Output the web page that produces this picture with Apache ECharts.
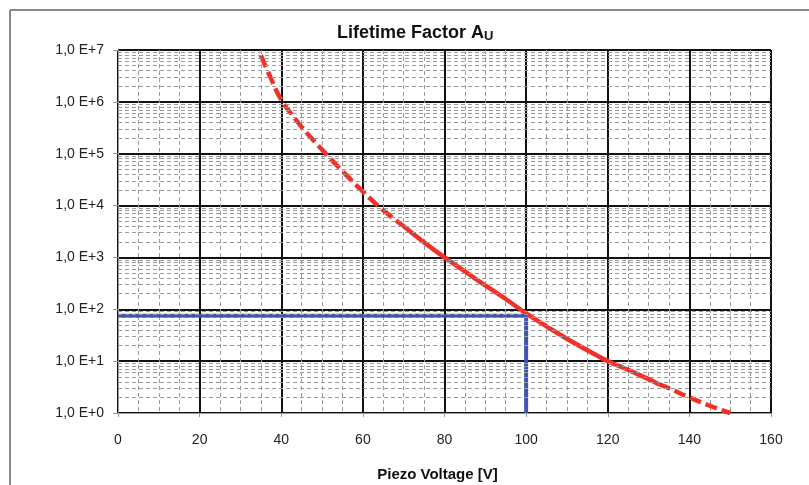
<!DOCTYPE html>
<html>
<head>
<meta charset="utf-8">
<script src="https://cdn.jsdelivr.net/npm/echarts@6/dist/echarts.min.js"></script>
<style>
html,body{margin:0;padding:0;background:#fff;}
#chart{width:809px;height:485px;}
</style>
</head>
<body>
<div id="chart"></div>
<script>
// ---- data ----
const voltage  = [35, 37.5, 40, 45, 50, 55, 60, 65, 70, 75, 80, 85, 90, 95, 100, 105, 110, 115, 120, 125, 130, 132.5, 135, 140, 145, 150];
const lifetime = [7.9e6, 2.8e6, 1.1e6, 3.3e5, 1.2e5, 4.6e4, 1.86e4, 8.1e3, 4.0e3, 1.95e3, 1.0e3, 537, 288, 158, 83, 47, 27, 16.2, 10, 6.8, 4.5, 3.6, 3.0, 2.0, 1.38, 1.0];
const solidFrom = 70;     // curve drawn solid between these voltages
const solidTo = 132.5;
const markerVoltage = 100;
const markerLifetime = 75;
const xTicks = [0, 20, 40, 60, 80, 100, 120, 140, 160];
const yTickLabels = ['1,0 E+0', '1,0 E+1', '1,0 E+2', '1,0 E+3', '1,0 E+4', '1,0 E+5', '1,0 E+6', '1,0 E+7'];
const minorMantissa = [2, 3, 4, 5, 6, 7, 8, 9];

// ---- build ----
const pts = voltage.map((v, i) => [v, lifetime[i]]);
const highDashed = pts.filter(p => p[0] <= solidFrom);
const solidPart = pts.filter(p => p[0] >= solidFrom && p[0] <= solidTo);
const lowDashed = pts.filter(p => p[0] >= solidTo);
const minorY = [];
for (let e = 0; e < yTickLabels.length - 1; e++) {
  minorMantissa.forEach(m => minorY.push(m * Math.pow(10, e)));
}
const red = '#f2302a';
const blue = '#3d55b0';
const font = 'Liberation Sans, Arial, sans-serif';

const chart = echarts.init(document.getElementById('chart'), null, {renderer: 'canvas'});
chart.setOption({
  animation: false,
  backgroundColor: '#fff',
  title: {
    text: '{a|Lifetime Factor A}{b|U}',
    left: 332, top: 19,
    textStyle: {
      rich: {
        a: {fontFamily: font, fontWeight: 'bold', fontSize: 18, color: '#111'},
        b: {fontFamily: font, fontWeight: 'bold', fontSize: 13, color: '#111', verticalAlign: 'bottom', padding: [6, 0, 0, 0]}
      }
    }
  },
  graphic: [
    {type: 'line', shape: {x1: 10, y1: 10, x2: 809, y2: 10}, style: {stroke: '#888', lineWidth: 2}},
    {type: 'line', shape: {x1: 10, y1: 10, x2: 10, y2: 485}, style: {stroke: '#888', lineWidth: 2}}
  ],
  grid: {left: 118, right: 38, top: 50, bottom: 72, outerBoundsMode: 'none', containLabel: false,
         show: true, borderColor: '#999', borderWidth: 1, backgroundColor: '#fff'},
  xAxis: {
    type: 'value', min: xTicks[0], max: xTicks[xTicks.length - 1], interval: 20,
    name: 'Piezo Voltage [V]', nameLocation: 'middle', nameGap: 54,
    nameTextStyle: {fontFamily: font, fontWeight: 'bold', fontSize: 15, color: '#111', padding: [0, 14, 0, 0]},
    axisLine: {show: true, lineStyle: {color: '#999', width: 1}},
    axisTick: {show: true, length: 4, lineStyle: {color: '#999'}},
    axisLabel: {margin: 20, fontFamily: font, fontSize: 14, color: '#222'},
    splitLine: {show: true, lineStyle: {color: '#111', width: 2}},
    minorTick: {show: false, splitNumber: 4},
    minorSplitLine: {show: true, lineStyle: {color: '#9a9a9a', width: 1, type: [4, 3]}}
  },
  yAxis: {
    type: 'log', logBase: 10, min: 1, max: 1e7,
    axisLine: {show: true, lineStyle: {color: '#999', width: 1}},
    axisTick: {show: true, length: 5, lineStyle: {color: '#999'}},
    axisLabel: {
      margin: 14, fontFamily: font, fontSize: 14, color: '#222',
      formatter: v => yTickLabels[Math.round(Math.log10(v))]
    },
    splitLine: {show: true, lineStyle: {color: '#111', width: 2}}
  },
  series: [
    {
      type: 'line', data: [[xTicks[0], 1]], showSymbol: false, silent: true, z: 1,
      lineStyle: {opacity: 0},
      markLine: {
        silent: true, symbol: 'none', label: {show: false}, animation: false,
        lineStyle: {color: '#9a9a9a', width: 1, type: [4, 3]},
        data: minorY.map(v => ({yAxis: v}))
      }
    },
    {
      type: 'line', data: [[0, markerLifetime], [markerVoltage, markerLifetime], [markerVoltage, 1]],
      showSymbol: false, z: 3, lineStyle: {color: blue, width: 4}
    },
    {
      type: 'line', data: highDashed, smooth: 0.4, showSymbol: false, z: 4,
      lineStyle: {color: red, width: 4.5, type: [13, 5]}
    },
    {
      type: 'line', data: solidPart, smooth: 0.4, showSymbol: false, z: 4,
      lineStyle: {color: red, width: 4.5}
    },
    {
      type: 'line', data: lowDashed, smooth: 0.4, showSymbol: false, z: 4,
      lineStyle: {color: red, width: 4.5, type: [12, 5]}
    }
  ]
});
</script>
</body>
</html>
